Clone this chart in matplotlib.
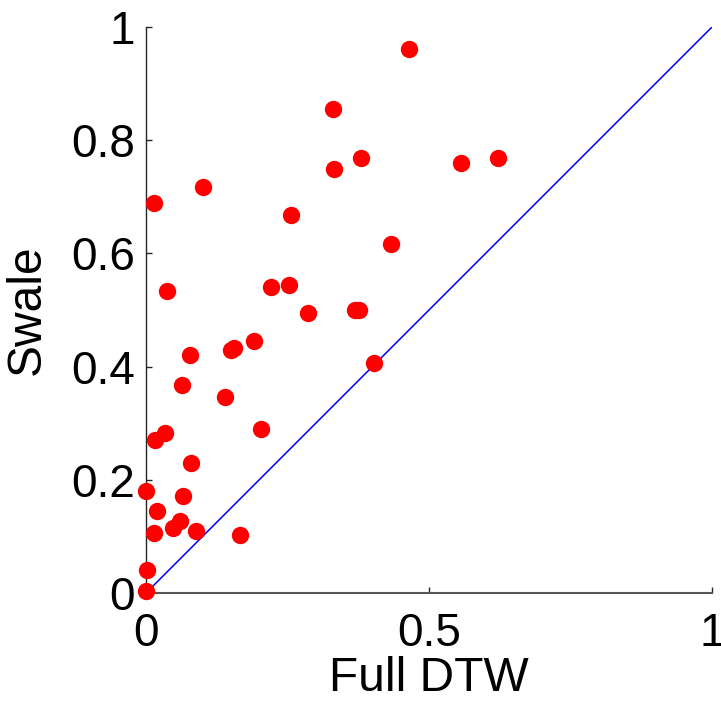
import matplotlib
matplotlib.use("Agg")
import matplotlib.pyplot as plt

full_dtw = [0.465, 0.330, 0.380, 0.333, 0.556, 0.622, 0.100, 0.014, 0.256, 0.433,
            0.037, 0.220, 0.252, 0.286, 0.370, 0.377, 0.190, 0.150, 0.155, 0.077,
            0.063, 0.402, 0.140, 0.204, 0.034, 0.016, 0.079, 0.000, 0.066, 0.019,
            0.060, 0.048, 0.089, 0.014, 0.166, 0.002, 0.000]
swale = [0.961, 0.856, 0.768, 0.750, 0.760, 0.768, 0.717, 0.689, 0.667, 0.617,
         0.533, 0.540, 0.545, 0.495, 0.500, 0.500, 0.446, 0.430, 0.432, 0.421,
         0.367, 0.406, 0.347, 0.289, 0.282, 0.271, 0.229, 0.180, 0.172, 0.145,
         0.128, 0.114, 0.110, 0.106, 0.102, 0.040, 0.004]

x_ticks = [0, 0.5, 1]
x_tick_labels = ["0", "0.5", "1"]
y_ticks = [0, 0.2, 0.4, 0.6, 0.8, 1]
y_tick_labels = ["0", "0.2", "0.4", "0.6", "0.8", "1"]
diag = [0, 1]

plt.rcParams['font.family'] = ['Liberation Sans', 'DejaVu Sans']

fig = plt.figure(figsize=(7.21, 7.02), dpi=100)
ax = fig.add_axes([146/721, (702-593)/702, 566/721, 566/702])

ax.plot(diag, diag, color='#0000ff', lw=1.1, zorder=2)
ax.plot(full_dtw, swale, 'o', color='#ff0000', markersize=12.5, markeredgewidth=0,
        clip_on=False, zorder=3)

ax.set_xlim(0, 1)
ax.set_ylim(0, 1)
ax.set_xticks(x_ticks)
ax.set_xticklabels(x_tick_labels)
ax.set_yticks(y_ticks)
ax.set_yticklabels(y_tick_labels)

for s in ['top', 'right']:
    ax.spines[s].set_visible(False)
ax.spines['left'].set_color('#262626')
ax.spines['bottom'].set_color('#555555')
ax.spines['left'].set_linewidth(1.0)
ax.spines['bottom'].set_linewidth(1.5)

ax.tick_params(axis='both', direction='in', length=4, width=1.0, labelsize=33,
               colors='#262626', labelcolor='black')
ax.tick_params(axis='x', pad=14)
ax.tick_params(axis='y', pad=8)

ax.set_xlabel('Full DTW', fontsize=34.5, labelpad=0)
ax.set_ylabel('Swale', fontsize=34.5, labelpad=15)

fig.savefig('out.png', dpi=100, facecolor='white')
